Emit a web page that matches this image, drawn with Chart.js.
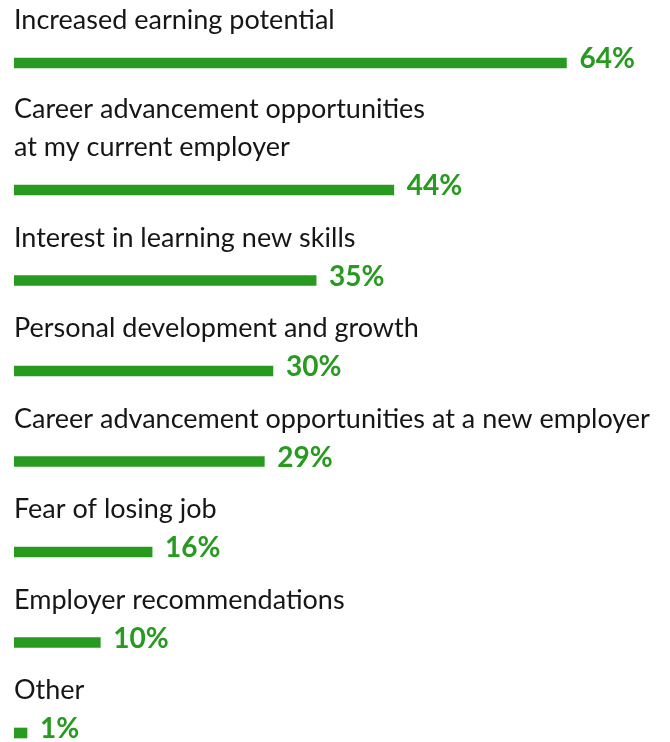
<!DOCTYPE html>
<html>
<head>
<meta charset="utf-8">
<script src="https://cdn.jsdelivr.net/npm/chart.js@4"></script>
<style>
  html, body { margin: 0; padding: 0; background: #fff; }
  #wrap { width: 670px; height: 742px; position: relative; }
</style>
</head>
<body>
<div id="wrap"><canvas id="chart"></canvas></div>
<script>
// Datos del gráfico
const categories = [
    ['Increased earning potential'],
    ['Career advancement opportunities', 'at my current employer'],
    ['Interest in learning new skills'],
    ['Personal development and growth'],
    ['Career advancement opportunities at a new employer'],
    ['Fear of losing job'],
    ['Employer recommendations'],
    ['Other']
];
const values = [64, 44, 35, 30, 29, 16, 10, 1];

// Colores y tipografía
const green = '#289a20';
const textColor = '#161616';
const labelFont = '400 27px Lato';
const valueFont = '700 28px Lato';

// Posición vertical de cada barra según el número de líneas de su etiqueta
const firstRow = 63, rowStep = 90.5, extraLine = 36.5, lineHeight = 38;
const positions = [];
categories.forEach((lines, i) => {
    const prev = i === 0 ? firstRow - rowStep : positions[i - 1];
    positions.push(prev + rowStep + (lines.length - 1) * extraLine);
});

// Plugin para dibujar etiquetas encima de las barras y valores a la derecha
const labelPlugin = {
    id: 'barLabels',
    afterDatasetsDraw(chart) {
        const ctx = chart.ctx;
        const meta = chart.getDatasetMeta(0);
        ctx.save();
        meta.data.forEach((bar, i) => {
            const lines = categories[i];
            ctx.font = labelFont;
            ctx.fillStyle = textColor;
            ctx.textAlign = 'left';
            ctx.textBaseline = 'alphabetic';
            lines.forEach((line, j) => {
                const y = bar.y - 34 - (lines.length - 1 - j) * lineHeight;
                ctx.fillText(line, bar.base, y);
            });
            ctx.font = valueFont;
            ctx.fillStyle = green;
            ctx.fillText(values[i] + '%', bar.x + 13, bar.y + 5);
        });
        ctx.restore();
    }
};

const ctx = document.getElementById('chart').getContext('2d');
new Chart(ctx, {
    type: 'bar',
    data: {
        datasets: [{
            data: values.map((v, i) => ({ x: v, y: positions[i] })),
            backgroundColor: green,
            borderWidth: 0,
            barThickness: 10,
            minBarLength: 13
        }]
    },
    options: {
        indexAxis: 'y',
        responsive: true,
        maintainAspectRatio: false,
        animation: false,
        layout: { padding: { left: 14, right: 0, top: 0, bottom: 0 } },
        plugins: {
            legend: { display: false },
            tooltip: { enabled: false }
        },
        scales: {
            x: { type: 'linear', min: 0, max: 76, display: false },
            y: { type: 'linear', min: 0, max: 742, reverse: true, offset: false, display: false }
        }
    },
    plugins: [labelPlugin]
});
</script>
</body>
</html>
